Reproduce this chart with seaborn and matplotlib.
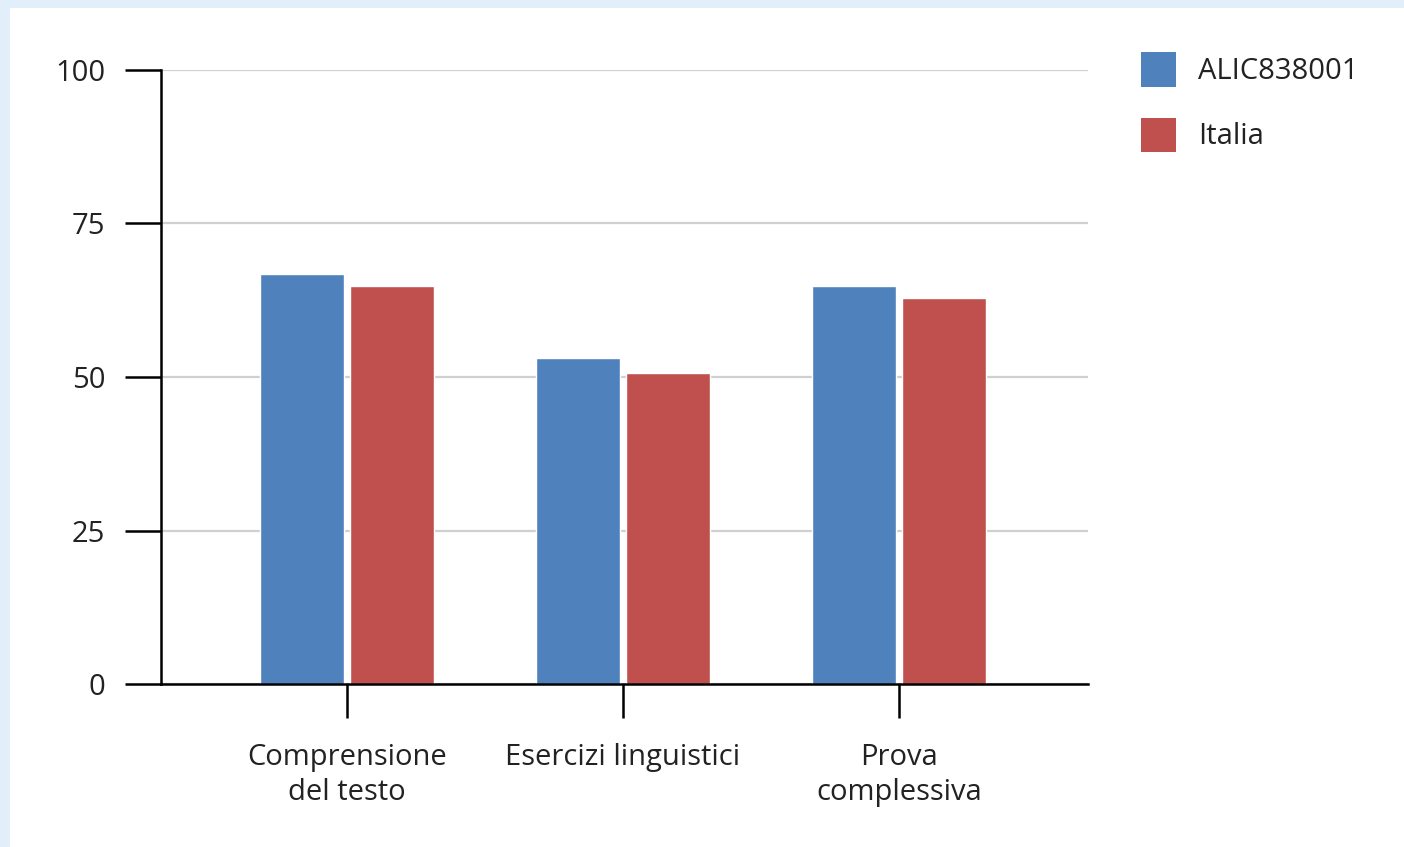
import pandas as pd
import matplotlib.pyplot as plt
import seaborn as sns
from matplotlib.patches import Patch, Rectangle

# data
categories = ["Comprensione\ndel testo", "Esercizi linguistici", "Prova\ncomplessiva"]
series_names = ["ALIC838001", "Italia"]
alic_values = [66.8, 53.1, 64.8]
italia_values = [64.8, 50.6, 62.8]
y_ticks = [0, 25, 50, 75, 100]

colors = ["#4f81bd", "#c0504d"]

df = pd.DataFrame({
    "Categoria": categories * 2,
    "Serie": [series_names[0]] * 3 + [series_names[1]] * 3,
    "Valore": alic_values + italia_values,
})

sns.set_style("white")
plt.rcParams["font.family"] = ["Open Sans", "DejaVu Sans"]
text_color = "#222222"
fs = 21

fig = plt.figure(figsize=(14.04, 8.47), dpi=100)
fig.patch.set_facecolor("#e2effb")
# white card over the light blue backdrop
fig.patches.append(Rectangle((10 / 1404, 0), 1, 1 - 8 / 847, transform=fig.transFigure,
                             facecolor="white", edgecolor="none", zorder=-10))

ax = fig.add_axes([161 / 1404, 163 / 847, (1088 - 161) / 1404, (684 - 70) / 847])
ax.set_facecolor("none")

sns.barplot(data=df, x="Categoria", y="Valore", hue="Serie", palette=colors,
            width=0.655, gap=0.07, ax=ax, legend=False, saturation=1)

ax.set_ylim(0, 100)
ax.set_xlim(-0.674, 2.685)
ax.set_yticks(y_ticks)
ax.set_xlabel("")
ax.set_ylabel("")
ax.yaxis.grid(True, color="#d0d0d0", linewidth=1.6)
ax.set_axisbelow(True)

for side in ["top", "right"]:
    ax.spines[side].set_visible(False)
for side in ["left", "bottom"]:
    ax.spines[side].set_color("black")
    ax.spines[side].set_linewidth(1.8)

ax.tick_params(axis="y", left=True, length=26, width=1.8, pad=14, labelsize=fs,
               colors="black", labelcolor=text_color)
ax.tick_params(axis="x", bottom=True, length=24.5, width=1.8, pad=18, labelsize=fs,
               colors="black", labelcolor=text_color)
for lbl in ax.get_xticklabels():
    lbl.set_linespacing(1.25)

handles = [Patch(facecolor=c, edgecolor="none") for c in colors]
fig.legend(handles, series_names, loc="upper left", bbox_to_anchor=(1115 / 1404, 1 - 26 / 847),
           frameon=False, fontsize=fs, handlelength=1.2, handleheight=1.45,
           labelspacing=1.05, handletextpad=0.75, labelcolor=text_color)

fig.savefig("out.png", dpi=100)
